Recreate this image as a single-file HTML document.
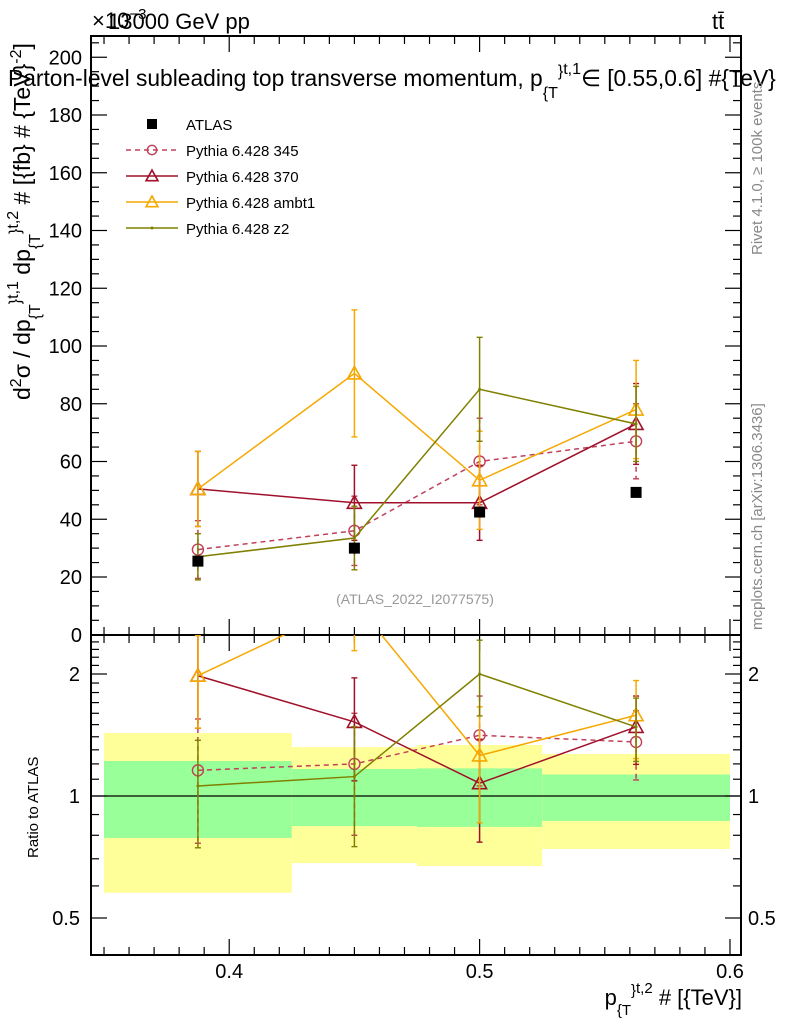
<!DOCTYPE html>
<html><head><meta charset="utf-8"><style>
body{margin:0;background:#fff;}
svg{display:block;font-family:"Liberation Sans",sans-serif;}
</style></head><body>
<svg id="chart" width="786" height="1024" xmlns="http://www.w3.org/2000/svg">
<g id="bands"></g>
<g id="grid"></g>
<g id="series"></g>
<text x="92" y="28" font-size="22">×10<tspan font-size="15" dy="-9">−3</tspan></text>
<text x="108" y="29" font-size="22">13000 GeV pp</text>
<text x="712" y="29" font-size="22">tt̄</text>
<text x="8" y="86" font-size="22.8">Parton-level subleading top transverse momentum, p<tspan font-size="16" dy="12">{T</tspan><tspan font-size="16" dy="-22">}</tspan><tspan font-size="16" dy="-2">t,1</tspan><tspan dy="12">∈ [0.55,0.6] #{TeV}</tspan></text>
<text x="415" y="604" font-size="14" fill="#999" text-anchor="middle">(ATLAS_2022_I2077575)</text>
<text transform="translate(762,255) rotate(-90)" font-size="15" fill="#888">Rivet 4.1.0, ≥ 100k events</text>
<text transform="translate(762,630) rotate(-90)" font-size="15" fill="#888">mcplots.cern.ch [arXiv:1306.3436]</text>
<text transform="translate(30,400) rotate(-90)" font-size="23">d<tspan font-size="16" dy="-9">2</tspan><tspan dy="9">σ / dp</tspan><tspan font-size="16" dy="10">{T</tspan><tspan font-size="16" dy="-20">}</tspan><tspan font-size="16" dy="-2">t,1</tspan><tspan dy="12"> dp</tspan><tspan font-size="16" dy="10">{T</tspan><tspan font-size="16" dy="-20">}</tspan><tspan font-size="16" dy="-2">t,2</tspan><tspan dy="12"> # [{fb} # {TeV}</tspan><tspan font-size="16" dy="-9">-2</tspan><tspan dy="9">]</tspan></text>
<text transform="translate(38,858) rotate(-90)" font-size="15">Ratio to ATLAS</text>
<text x="742" y="1005" font-size="22" text-anchor="end">p<tspan font-size="15" dy="10">{T</tspan><tspan font-size="15" dy="-20">}</tspan><tspan font-size="15" dy="-2">t,2</tspan><tspan dy="12"> # [{TeV}]</tspan></text>
<g id="legend"></g>
</svg>
<script>
const xCenters=[0.3875,0.45,0.5,0.5625];
const binEdges=[0.35,0.425,0.475,0.525,0.6];
const atlasVals=[25.5,30,42.5,49.3];
const p345Vals=[29.5,36,60,67];
const p345Errs=[10,12,15,13];
const p370Vals=[50.5,45.7,45.7,73];
const p370Errs=[13,13,13,14];
const ambt1Vals=[50.5,90.5,53.5,78];
const ambt1Errs=[13,22,17,17];
const z2Vals=[27,33.5,85,73];
const z2Errs=[8,11,18,13];
const bandStatLo=[0.788,0.843,0.839,0.868];
const bandStatHi=[1.22,1.166,1.17,1.13];
const bandTotLo=[0.577,0.683,0.672,0.74];
const bandTotHi=[1.43,1.32,1.336,1.27];
const mainTicks=[0,20,40,60,80,100,120,140,160,180,200];
const ratioTicks=[0.5,1,2];
const xTicks=[0.4,0.5,0.6];

const NS='http://www.w3.org/2000/svg';
const L=91,R=741,T=36,MB=635,RB=955;
const X=v=>L+(v-0.3448)/(0.6044-0.3448)*(R-L);
const Y=v=>634.75-v*2.8875;
const YR=v=>796-Math.log2(v)*122;
function mk(tag,attrs,parent){const e=document.createElementNS(NS,tag);for(const k in attrs)e.setAttribute(k,attrs[k]);parent.appendChild(e);return e;}
const bands=document.getElementById('bands'),grid=document.getElementById('grid'),ser=document.getElementById('series'),leg=document.getElementById('legend');

for(let i=0;i<4;i++){
  const x0=X(binEdges[i]),x1=X(binEdges[i+1]);
  let r=mk('rect',{x:x0,y:YR(bandTotHi[i]),width:x1-x0,height:YR(bandTotLo[i])-YR(bandTotHi[i]),fill:'#ffff99'},bands);
  
  
  r=mk('rect',{x:x0,y:YR(bandStatHi[i]),width:x1-x0,height:YR(bandStatLo[i])-YR(bandStatHi[i]),fill:'#99ff99'},bands);
  
  
}
mk('rect',{x:L,y:T,width:R-L,height:MB-T,fill:'none',stroke:'#000','stroke-width':2},grid);
mk('rect',{x:L,y:MB,width:R-L,height:RB-MB,fill:'none',stroke:'#000','stroke-width':2},grid);
mk('line',{x1:L,x2:R,y1:YR(1),y2:YR(1),stroke:'#000','stroke-width':1.3},grid);
for(let v=0.35;v<=0.6001;v+=0.01){
  const x=X(v),major=Math.abs(v*10-Math.round(v*10))<1e-6,len=major?16:8;
  for(const [y0,d] of [[T,1],[MB,-1],[MB,1],[RB,-1]]) mk('line',{x1:x,x2:x,y1:y0,y2:y0+d*len,stroke:'#000','stroke-width':1.2},grid);
}
xTicks.forEach(v=>{const t=mk('text',{x:X(v),y:978,'font-size':20,'text-anchor':'middle'},grid);t.textContent=String(v);

});
for(let v=0;v<=205;v+=5){const y=Y(v);if(y<T)break;const len=v%20==0?16:8;
  mk('line',{x1:L,x2:L+len,y1:y,y2:y,stroke:'#000','stroke-width':1.2},grid);
  mk('line',{x1:R,x2:R-len,y1:y,y2:y,stroke:'#000','stroke-width':1.2},grid);}
mainTicks.forEach(v=>{const t=mk('text',{x:82,y:Y(v)+7,'font-size':20,'text-anchor':'end'},grid);t.textContent=String(v);

});
for(const v of [0.5,0.6,0.7,0.8,0.9,1,1.1,1.2,1.3,1.4,1.5,1.6,1.7,1.8,1.9,2,2.1,2.2,2.3,2.4]){
  const y=YR(v),len=ratioTicks.includes(v)?16:8;
  mk('line',{x1:L,x2:L+len,y1:y,y2:y,stroke:'#000','stroke-width':1.2},grid);
  mk('line',{x1:R,x2:R-len,y1:y,y2:y,stroke:'#000','stroke-width':1.2},grid);}
ratioTicks.forEach(v=>{for(const [x,a] of [[80,'end'],[748,'start']]){const t=mk('text',{x:x,y:YR(v)+7,'font-size':20,'text-anchor':a},grid);t.textContent=String(v);

}});

const clipM=mk('clipPath',{id:'cm'},ser);mk('rect',{x:L,y:T,width:R-L,height:MB-T},clipM);
const clipR=mk('clipPath',{id:'cr'},ser);mk('rect',{x:L,y:MB,width:R-L,height:RB-MB},clipR);
const gm=mk('g',{'clip-path':'url(#cm)'},ser),gr=mk('g',{'clip-path':'url(#cr)'},ser);

const series=[
 {name:'pythia-345',vals:p345Vals,errs:p345Errs,color:'#c0405a',dash:'5,4',marker:'circle'},
 {name:'pythia-370',vals:p370Vals,errs:p370Errs,color:'#a0102a',dash:'',marker:'tri'},
 {name:'pythia-ambt1',vals:ambt1Vals,errs:ambt1Errs,color:'#f5a800',dash:'',marker:'tri'},
 {name:'pythia-z2',vals:z2Vals,errs:z2Errs,color:'#808000',dash:'',marker:'dot'}];
function marker(s,x,y,g,sc){
  let m;
  if(s.marker=='circle') m=mk('circle',{cx:x,cy:y,r:5.5*sc,fill:'none',stroke:s.color,'stroke-width':1.4},g);
  else if(s.marker=='tri') m=mk('polygon',{points:`${x},${y-7*sc} ${x-7*sc},${y+5.5*sc} ${x+7*sc},${y+5.5*sc}`,fill:'none',stroke:s.color,'stroke-width':1.6},g);
  else m=mk('circle',{cx:x,cy:y,r:1.5,fill:s.color},g);
  return m;
}
function drawSeries(s,g,yf,vals,errs){
  const pts=vals.map((v,i)=>[X(xCenters[i]),yf(v)]);
  const pl=mk('polyline',{points:pts.map(p=>p.join(',')).join(' '),fill:'none',stroke:s.color,'stroke-width':1.5,'stroke-dasharray':s.dash},g);
  
  
  vals.forEach((v,i)=>{
    const x=pts[i][0],y1=yf(v+errs[i]),y2=yf(Math.max(v-errs[i],1e-3));
    const e=mk('line',{x1:x,x2:x,y1:y1,y2:y2,stroke:s.color,'stroke-width':1.5,'stroke-dasharray':s.dash},g);
    
    
    mk('line',{x1:x-3,x2:x+3,y1:y1,y2:y1,stroke:s.color,'stroke-width':1.4},g);
    mk('line',{x1:x-3,x2:x+3,y1:y2,y2:y2,stroke:s.color,'stroke-width':1.4},g);
    const m=marker(s,x,pts[i][1],g,1);
    
    
  });
}
series.forEach(s=>{
  drawSeries(s,gm,Y,s.vals,s.errs);
  drawSeries(s,gr,YR,s.vals.map((v,i)=>v/atlasVals[i]),s.errs.map((e,i)=>e/atlasVals[i]));
});
atlasVals.forEach((v,i)=>{
  const r=mk('rect',{x:X(xCenters[i])-5.5,y:Y(v)-5.5,width:11,height:11,fill:'#000'},gm);
  
  
});
const lx=152;let ly=124;
let r=mk('rect',{x:lx-5,y:ly-5,width:10,height:10,fill:'#000'},leg);


let t=mk('text',{x:186,y:ly+6,'font-size':15},leg);t.textContent='ATLAS';


const labels=['Pythia 6.428 345','Pythia 6.428 370','Pythia 6.428 ambt1','Pythia 6.428 z2'];
series.forEach((s,i)=>{
  const y=ly+26*(i+1);
  mk('line',{x1:126,x2:178,y1:y,y2:y,stroke:s.color,'stroke-width':1.5,'stroke-dasharray':s.dash},leg);
  marker(s,lx,y,leg,0.85);
  const tt=mk('text',{x:186,y:y+6,'font-size':15},leg);tt.textContent=labels[i];
  
  
});
</script>
</body></html>
